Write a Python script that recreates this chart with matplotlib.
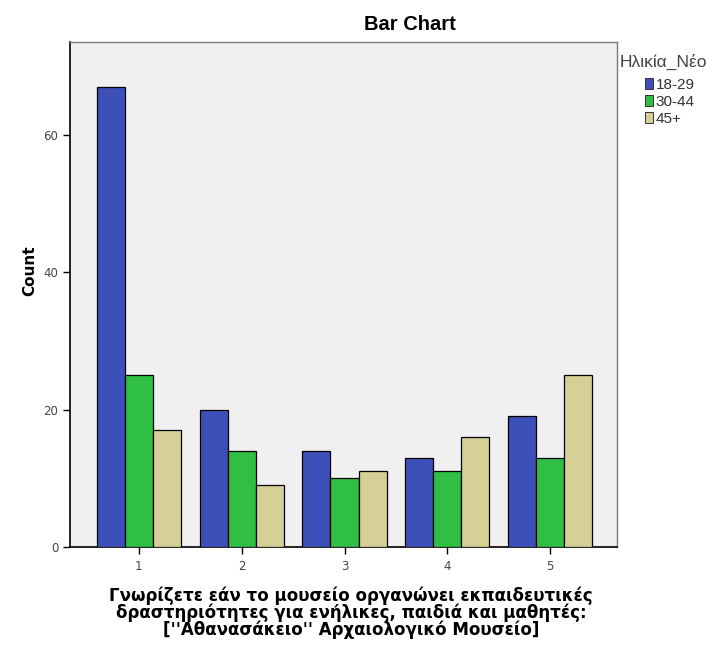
import numpy as np
import matplotlib
matplotlib.use("Agg")
import matplotlib.pyplot as plt
from matplotlib.patches import Patch

plt.rcParams['font.family'] = ['DejaVu Sans']

categories = ["1", "2", "3", "4", "5"]
groups = ["18-29", "30-44", "45+"]
counts_18_29 = [67, 20, 14, 13, 19]
counts_30_44 = [25, 14, 10, 11, 13]
counts_45p = [17, 9, 11, 16, 25]
yticks = [0, 20, 40, 60]

colors = ["#3d4fb8", "#2fbf45", "#d6d097"]
series = [counts_18_29, counts_30_44, counts_45p]

W, H = 716, 645
fig = plt.figure(figsize=(W / 100, H / 100), dpi=100)
ax = fig.add_axes([70 / W, 1 - 547 / H, 547 / W, 505 / H])
ax.set_facecolor("#f0f0f0")

x = np.arange(1, len(categories) + 1)
w = 0.273
for i, (vals, c) in enumerate(zip(series, colors)):
    ax.bar(x + (i - 1) * w, vals, width=w, color=c, edgecolor="black", linewidth=0.9, zorder=3)

ax.set_xlim(0.33, 5.65)
ax.set_ylim(0, 73.5)
ax.set_xticks(x)
ax.set_xticklabels(categories)
ax.set_yticks(yticks)
ax.tick_params(axis="both", direction="out", length=5, width=1, colors="black",
               labelcolor="#444444", labelsize=8.5)
ax.tick_params(axis="x", pad=4)
for s in ["left", "bottom"]:
    ax.spines[s].set_color("black")
    ax.spines[s].set_linewidth(1.2)
for s in ["top", "right"]:
    ax.spines[s].set_color("#7a7a7a")
    ax.spines[s].set_linewidth(1.0)

# axis titles and chart title placed like the SPSS output
fig.text(30 / W, 1 - 271 / H, "Count", rotation=90, ha="center", va="center",
         fontsize=11, fontweight="bold")
fig.text(351 / W, 1 - 613 / H,
         "Γνωρίζετε εάν το μουσείο οργανώνει εκπαιδευτικές\n"
         "δραστηριότητες για ενήλικες, παιδιά και μαθητές:\n"
         "[''Αθανασάκειο'' Αρχαιολογικό Μουσείο]",
         ha="center", va="center", fontsize=12, fontweight="bold", linespacing=0.9)
fig.text(410 / W, 1 - 25 / H, "Bar Chart", ha="center", va="center",
         fontsize=14.5, fontweight="bold", family="Liberation Sans")

# legend (title drawn separately, as SPSS puts it left of the swatches)
fig.text(620 / W, 1 - 62 / H, "Ηλικία_Νέο", ha="left", va="center",
         fontsize=12.5, color="#444444", family="Liberation Sans")
handles = [Patch(facecolor=c, edgecolor="#333333", linewidth=0.7) for c in colors]
leg = fig.legend(handles, groups, loc="upper left",
                 bbox_to_anchor=(645 / W, 1 - 78 / H), frameon=False,
                 prop={"family": "Liberation Sans", "size": 11},
                 handlelength=0.55, handleheight=0.7,
                 handletextpad=0.15, labelspacing=0.2, borderaxespad=0, borderpad=0)
for t in leg.get_texts():
    t.set_color("#333333")

fig.savefig("out.png", dpi=100)
